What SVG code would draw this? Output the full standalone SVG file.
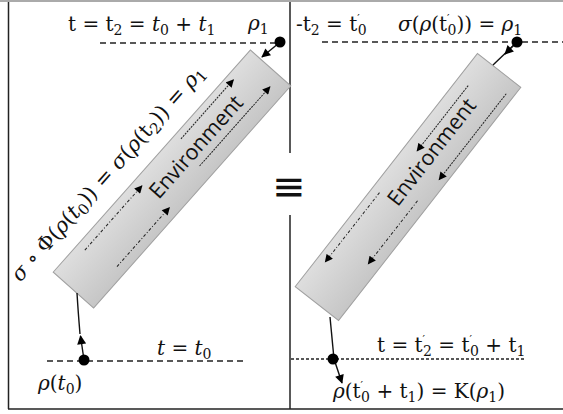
<svg xmlns="http://www.w3.org/2000/svg" width="563" height="414" viewBox="0 0 563 414">
<style>
.m{font-family:"DejaVu Serif","Liberation Serif",serif;font-size:20px;fill:#111}
.r{font-size:21px}
.i{font-style:italic}
.env{font-family:"Open Sans","Liberation Sans",sans-serif;font-size:21.5px;fill:#111}
.box{fill:url(#g);stroke:#a0a0a0;stroke-width:1}
.dash{fill:none;stroke:#222;stroke-width:1.4;stroke-dasharray:6 4}
.dot2{fill:none;stroke:#222;stroke-width:1.4;stroke-dasharray:3 2}
.ln{fill:none;stroke:#111;stroke-width:1.4}
.a1{fill:none;stroke:#222;stroke-width:1;stroke-dasharray:2 1;marker-end:url(#ah)}
.a2{fill:none;stroke:#222;stroke-width:1;stroke-dasharray:3 2 1 2;marker-end:url(#ah)}
.pt{fill:#000}
.frame{fill:none;stroke:#222;stroke-width:1.5}
</style>
<defs>
<linearGradient id="g" x1="0" y1="0" x2="0" y2="1">
<stop offset="0" stop-color="#dedede"/>
<stop offset="1" stop-color="#c6c6c6"/>
</linearGradient>
<marker id="ah" viewBox="0 0 10 10" refX="9" refY="5" markerWidth="9" markerHeight="8" markerUnits="userSpaceOnUse" orient="auto">
<path d="M0,0 L10,5 L0,10 z" fill="#000"/>
</marker>
<marker id="ah2" viewBox="0 0 10 10" refX="9" refY="5" markerWidth="10" markerHeight="9" markerUnits="userSpaceOnUse" orient="auto">
<path d="M0,0 L10,5 L0,10 z" fill="#000"/>
</marker>
</defs>

<g id="frame">
<line x1="0" y1="1" x2="563" y2="1" stroke="#aaa" stroke-width="2"/>
<line class="frame" x1="8.5" y1="2" x2="8.5" y2="409"/>
<line class="frame" x1="8" y1="409" x2="563" y2="409"/>
<line class="frame" x1="290" y1="2" x2="290" y2="153"/>
<line class="frame" x1="290" y1="215" x2="290" y2="409"/>
<text x="289" y="200" text-anchor="middle" font-family="DejaVu Sans,sans-serif" font-size="40" fill="#111">≡</text>
</g>

<g id="env-left">
<g transform="translate(172,179) rotate(-48.4)">
<rect class="box" x="-148.5" y="-27" width="297" height="54"/>
<text class="env" x="40" y="4" text-anchor="middle">Environment</text>
<line class="a1" x1="36" y1="-20" x2="115" y2="-20"/>
<line class="a1" x1="28" y1="12" x2="134" y2="12"/>
<line class="a2" x1="-111" y1="-18" x2="-25" y2="-18"/>
<line class="a2" x1="-102" y1="17" x2="-23" y2="17"/>
</g>
</g>

<g id="env-right">
<g transform="translate(408,187) rotate(-52)">
<rect class="box" x="-148" y="-27.5" width="296" height="55"/>
<text class="env" x="42" y="4.5" text-anchor="middle">Environment</text>
<line class="a1" x1="117" y1="-15" x2="34" y2="-15"/>
<line class="a1" x1="134" y1="20" x2="25" y2="20"/>
<line class="a2" x1="-22" y1="-19" x2="-110" y2="-19"/>
<line class="a2" x1="-5" y1="16" x2="-85" y2="16"/>
</g>
</g>

<g id="connectors">
<line class="dash" x1="100" y1="43" x2="278" y2="43"/>
<line class="dash" x1="322" y1="42" x2="563" y2="42"/>
<line class="dash" x1="47" y1="361" x2="245" y2="361"/>
<line class="dot2" x1="291" y1="359" x2="525" y2="359"/>
<line class="ln" x1="279" y1="43" x2="262" y2="57" marker-end="url(#ah2)"/>
<line class="ln" x1="517" y1="42" x2="493" y2="65"/>
<line class="ln" x1="515" y1="44" x2="505" y2="54" marker-end="url(#ah2)"/>
<path class="ln" d="M84,360 L80.5,336" marker-end="url(#ah2)"/>
<path class="ln" d="M80,334 Q78,310 77,293"/>
<line class="ln" x1="330" y1="317" x2="334" y2="359"/>
<line class="ln" x1="334" y1="359" x2="342" y2="383" marker-end="url(#ah2)"/>
<circle class="pt" cx="280" cy="42" r="5.5"/>
<circle class="pt" cx="517" cy="42" r="5.5"/>
<circle class="pt" cx="84" cy="360" r="5.5"/>
<circle class="pt" cx="333" cy="359" r="5.5"/>
</g>

<g id="labels">
<text class="m" x="68" y="31">t = t<tspan font-size="14" dy="4">2</tspan><tspan dy="-4"> = </tspan><tspan class="i">t</tspan><tspan font-size="14" dy="4">0</tspan><tspan dy="-4"> + </tspan><tspan class="i">t</tspan><tspan font-size="14" dy="4">1</tspan></text>
<text class="m" x="248" y="30"><tspan class="i">ρ</tspan><tspan font-size="14" dy="4">1</tspan></text>
<text class="m" x="296" y="31">-t<tspan font-size="14" dy="4">2</tspan><tspan dy="-4"> = t</tspan><tspan font-size="11" dy="-9">′</tspan><tspan font-size="14" dx="-2" dy="13">0</tspan></text>
<text class="m" x="398" y="31"><tspan class="i">σ</tspan>(<tspan class="i">ρ</tspan>(t<tspan font-size="11" dy="-9">′</tspan><tspan font-size="14" dx="-2" dy="13">0</tspan><tspan dy="-4">)) = </tspan><tspan class="i">ρ</tspan><tspan font-size="14" dy="4">1</tspan></text>
<text class="m r" transform="translate(113,178) rotate(-48.5)" text-anchor="middle"><tspan class="i">σ</tspan> ∘ Φ(<tspan class="i">ρ</tspan>(<tspan class="i">t</tspan><tspan font-size="15" dy="4">0</tspan><tspan dy="-4">)) = </tspan><tspan class="i">σ</tspan>(<tspan class="i">ρ</tspan>(t<tspan font-size="15" dy="4">2</tspan><tspan dy="-4">)) = </tspan><tspan class="i">ρ</tspan><tspan font-size="15" dy="4">1</tspan></text>
<text class="m" x="157" y="355"><tspan class="i">t</tspan> = <tspan class="i">t</tspan><tspan font-size="14" dy="4">0</tspan></text>
<text class="m" x="38" y="390"><tspan class="i">ρ</tspan>(<tspan class="i">t</tspan><tspan font-size="14" dy="4">0</tspan><tspan dy="-4">)</tspan></text>
<text class="m" x="377" y="352">t = t<tspan font-size="11" dy="-9">′</tspan><tspan font-size="14" dx="-2" dy="13">2</tspan><tspan dy="-4"> = t</tspan><tspan font-size="11" dy="-9">′</tspan><tspan font-size="14" dx="-2" dy="13">0</tspan><tspan dy="-4"> + t</tspan><tspan font-size="14" dy="4">1</tspan></text>
<text class="m" x="333" y="398"><tspan class="i">ρ</tspan>(t<tspan font-size="11" dy="-9">′</tspan><tspan font-size="14" dx="-2" dy="13">0</tspan><tspan dy="-4"> + t</tspan><tspan font-size="14" dy="4">1</tspan><tspan dy="-4">) = K(</tspan><tspan class="i">ρ</tspan><tspan font-size="14" dy="4">1</tspan><tspan dy="-4">)</tspan></text>
</g>
</svg>
